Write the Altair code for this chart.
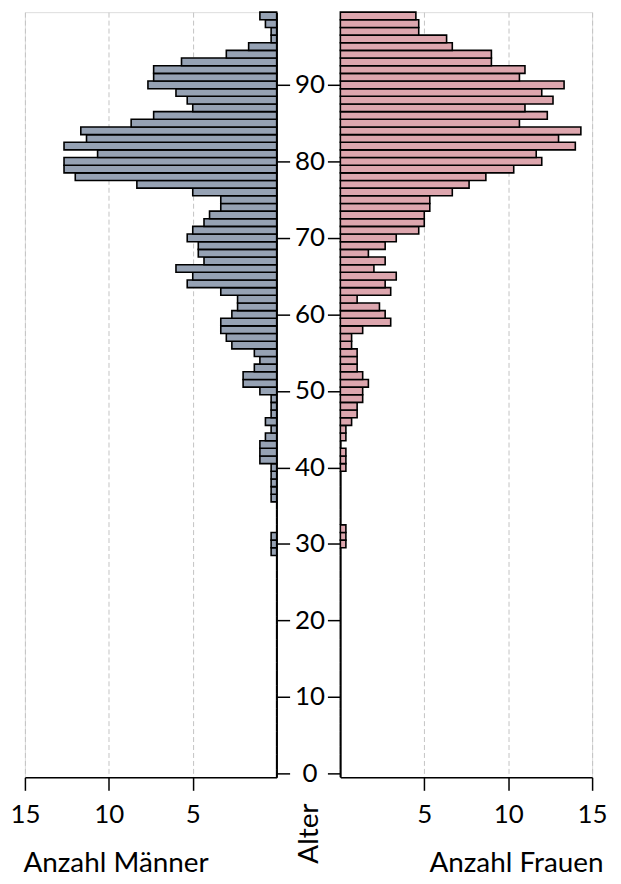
import altair as alt
import pandas as pd

# ages 0..99
ages = list(range(100))

maenner = [
    0, 0, 0, 0, 0, 0, 0, 0, 0, 0,            # 0-9
    0, 0, 0, 0, 0, 0, 0, 0, 0, 0,            # 10-19
    0, 0, 0, 0, 0, 0, 0, 0, 0, 0.33,         # 20-29
    0.33, 0.33, 0, 0, 0, 0, 0.33, 0.33, 0.33, 0.33,   # 30-39
    0.33, 1, 1, 1, 0.67, 0.33, 0.67, 0.33, 0.33, 0.33,  # 40-49
    1, 2, 2, 1.33, 1, 1.33, 2.67, 3, 3.33, 3.33,        # 50-59
    2.67, 2.33, 2.33, 3.33, 5.33, 5, 6, 4.33, 4.67, 4.67,  # 60-69
    5.33, 5, 4.33, 4, 3.33, 3.33, 5, 8.33, 12, 12.67,     # 70-79
    12.67, 10.67, 12.67, 11.33, 11.67, 8.67, 7.33, 5, 5.33, 6,  # 80-89
    7.67, 7.33, 7.33, 5.67, 3, 1.67, 0.33, 0.33, 0.67, 1,  # 90-99
]

frauen = [
    0, 0, 0, 0, 0, 0, 0, 0, 0, 0,            # 0-9
    0, 0, 0, 0, 0, 0, 0, 0, 0, 0,            # 10-19
    0, 0, 0, 0, 0, 0, 0, 0, 0, 0,            # 20-29
    0.33, 0.33, 0.33, 0, 0, 0, 0, 0, 0, 0,   # 30-39
    0.33, 0.33, 0.33, 0, 0.33, 0.33, 0.67, 1, 1, 1.33,   # 40-49
    1.33, 1.67, 1.33, 1, 1, 1, 0.67, 0.67, 1.33, 3,      # 50-59
    2.67, 2.33, 1, 3, 2.67, 3.33, 2, 2.67, 1.67, 2.67,   # 60-69
    3.33, 4.67, 5, 5, 5.33, 5.33, 6.67, 7.67, 8.67, 10.33,  # 70-79
    12, 11.67, 14, 13, 14.33, 10.67, 12.33, 11, 12.67, 12,  # 80-89
    13.33, 10.67, 11, 9, 9, 6.67, 6.33, 4.67, 4.67, 4.5,   # 90-99
]

x_ticks = [5, 10, 15]
y_ticks = [0, 10, 20, 30, 40, 50, 60, 70, 80, 90]

MCOL = "#96A2B4"
FCOL = "#DDA6AE"
FONT = "Lato"
LFS = 26
TFS = 28

df = pd.DataFrame({"alter": ages, "m": maenner, "f": frauen})

W, H = 253, 769
y_scale = alt.Scale(domain=[-0.5, 99.5], nice=False, zero=False)

base = alt.Chart(df).transform_calculate(
    y0="datum.alter - 0.5", y1="datum.alter + 0.5"
)

x_axis_common = dict(
    values=x_ticks, grid=True, gridDash=[5, 3], gridColor="#c4c4c4", gridWidth=1,
    domainColor="black", domainWidth=1.5, tickColor="black", tickWidth=1.5,
    tickSize=13, labelFontSize=LFS, labelFont=FONT, labelColor="black",
    labelFlush=False, labelOverlap=False,
    labelPadding=11, titleFontSize=TFS, titleFont=FONT, titleFontWeight="normal",
    titleColor="black", titleBaseline="middle", titleY=87,
)

left = base.mark_rect(fill=MCOL, stroke="black", strokeWidth=1.6).encode(
    x=alt.X("m:Q", scale=alt.Scale(domain=[0, 15], reverse=True, nice=False),
            axis=alt.Axis(title="Anzahl Männer", titleX=-2, titleAlign="left",
                          **x_axis_common)),
    x2=alt.datum(0),
    y=alt.Y("y0:Q", scale=y_scale,
            axis=alt.Axis(orient="right", values=y_ticks, grid=False,
                          domainColor="black", domainWidth=1.5,
                          tickColor="black", tickWidth=1.5, tickSize=13,
                          labelAlign="center", labelBaseline="middle",
                          labelPadding=20, labelFontSize=LFS, labelFont=FONT,
                          labelColor="black",
                          title="Alter", titleAngle=270, titleX=33, titleY=825,
                          titleAlign="center", titleBaseline="middle",
                          titleFontSize=TFS, titleFont=FONT,
                          titleFontWeight="normal", titleColor="black")),
    y2="y1:Q",
).properties(width=W, height=H)

right = base.mark_rect(fill=FCOL, stroke="black", strokeWidth=1.6).encode(
    x=alt.X("f:Q", scale=alt.Scale(domain=[0, 15], nice=False),
            axis=alt.Axis(title="Anzahl Frauen", titleX=264, titleAlign="right",
                          **x_axis_common)),
    x2=alt.datum(0),
    y=alt.Y("y0:Q", scale=y_scale,
            axis=alt.Axis(orient="left", values=y_ticks, grid=False,
                          labels=False, title=None,
                          domainColor="black", domainWidth=1.5,
                          tickColor="black", tickWidth=1.5, tickSize=13)),
    y2="y1:Q",
).properties(width=W, height=H)

chart = alt.hconcat(left, right, spacing=64, bounds="flush").properties(
    padding={"left": 1, "top": 0, "right": 5, "bottom": 5}
).configure_view(stroke=None).configure(font=FONT)

chart.save("out.html", embed_options={"renderer": "svg", "actions": False})
